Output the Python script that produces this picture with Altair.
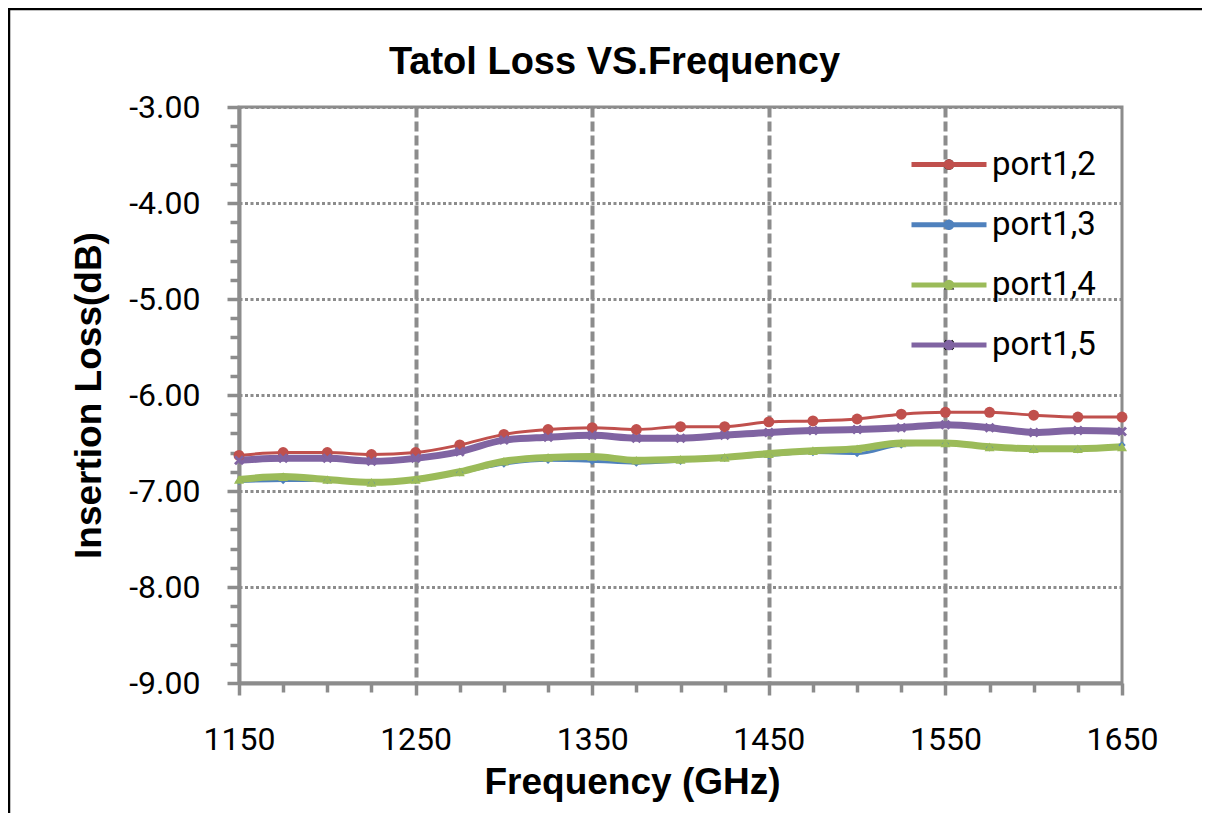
import altair as alt
import pandas as pd

# ---------------- data ----------------
freqs = [1150, 1175, 1200, 1225, 1250, 1275, 1300, 1325, 1350, 1375, 1400,
         1425, 1450, 1475, 1500, 1525, 1550, 1575, 1600, 1625, 1650]
series_names = ["port1,2", "port1,3", "port1,4", "port1,5"]
port12 = [-6.63, -6.60, -6.60, -6.62, -6.60, -6.52, -6.41, -6.36, -6.34, -6.36, -6.33,
          -6.33, -6.28, -6.27, -6.25, -6.20, -6.18, -6.18, -6.21, -6.23, -6.23]
port13 = [-6.90, -6.89, -6.89, -6.92, -6.89, -6.81, -6.72, -6.68, -6.69, -6.71, -6.69,
          -6.66, -6.63, -6.60, -6.61, -6.52, -6.51, -6.55, -6.57, -6.57, -6.52]
port14 = [-6.88, -6.85, -6.88, -6.91, -6.88, -6.80, -6.69, -6.65, -6.64, -6.68, -6.67,
          -6.65, -6.61, -6.58, -6.56, -6.50, -6.50, -6.54, -6.56, -6.56, -6.54]
port15 = [-6.68, -6.66, -6.66, -6.69, -6.66, -6.59, -6.47, -6.44, -6.42, -6.45, -6.45,
          -6.42, -6.39, -6.37, -6.36, -6.34, -6.31, -6.34, -6.39, -6.37, -6.38]

x_ticks = list(range(1150, 1651, 25))
y_ticks = [round(-9 + 0.2 * i, 1) for i in range(31)]

# ---------------- styling ----------------
colors = ["#C0504D", "#4F81BD", "#9BBB59", "#8064A2"]
line_widths = [3, 3, 7, 7]
x_path = "M-1,-0.6L-0.6,-1L0,-0.4L0.6,-1L1,-0.6L0.4,0L1,0.6L0.6,1L0,0.4L-0.6,1L-1,0.6L-0.4,0Z"
shapes = ["circle", "diamond", "triangle-up", x_path]
point_sizes = [120, 55, 100, 100]
legend_line_path = "M-3,0H3"

FONT_T = "Liberation Sans"
FONT_L = "Roboto"
GRAY = "#8c8c8c"

rows = []
for name, vals in zip(series_names, [port12, port13, port14, port15]):
    for f, v in zip(freqs, vals):
        rows.append({"freq": f, "loss": v, "series": name})
df = pd.DataFrame(rows)

names_js = "[" + ",".join(f"'{n}'" for n in series_names) + "]"
width_expr = "[" + ",".join(str(w) for w in line_widths) + f"][indexof({names_js}, datum.series)]"
size_expr = "[" + ",".join(str(s) for s in point_sizes) + f"][indexof({names_js}, datum.series)]"

major_x = "(datum.value - 1150) % 100 == 0"
major_y = "abs(datum.value - round(datum.value)) < 0.001"

x_enc = alt.X(
    "freq:Q",
    scale=alt.Scale(domain=[1150, 1650], nice=False, zero=False),
    axis=alt.Axis(
        values=x_ticks, tickCount=200,
        title="Frequency (GHz)",
        labelExpr=f"{major_x} ? format(datum.value, 'd') : ''",
        labelFont=FONT_L, labelFontSize=32, labelColor="black",
        labelPadding=29.5, labelOverlap=False, labelFlush=False,
        tickSize={"condition": {"test": major_x, "value": 12}, "value": 9},
        tickColor=GRAY, tickWidth=3.5,
        domainColor=GRAY, domainWidth=4,
        grid=True,
        gridOpacity={"condition": {"test": f"{major_x} && datum.value > 1150 && datum.value < 1650", "value": 1}, "value": 0},
        gridColor=GRAY, gridWidth=4, gridDash=[10, 4],
        titleFont=FONT_T, titleFontSize=37, titleFontWeight="bold", titleColor="black",
        titleX=393, titleY=110, titleBaseline="alphabetic", titleAlign="center",
    ),
)

y_enc = alt.Y(
    "loss:Q",
    scale=alt.Scale(domain=[-9, -3], nice=False, zero=False),
    axis=alt.Axis(
        values=y_ticks, tickCount=200,
        title="Insertion Loss(dB)",
        labelExpr=f"{major_y} ? ((datum.value < 0 ? '-' : '') + format(abs(datum.value), '.2f')) : ''",
        labelFont=FONT_L, labelFontSize=32, labelColor="black",
        labelPadding=27, labelOverlap=False, labelFlush=False,
        tickSize={"condition": {"test": major_y, "value": 12}, "value": 9},
        tickColor=GRAY, tickWidth=3.5,
        domainColor=GRAY, domainWidth=4,
        grid=True,
        gridOpacity={"condition": {"test": f"{major_y} && datum.value > -9", "value": 1}, "value": 0},
        gridColor=GRAY, gridWidth=3, gridDash=[3, 2.5],
        titleFont=FONT_T, titleFontSize=37, titleFontWeight="bold", titleColor="black",
        titleX=-139, titleY=288, titleBaseline="alphabetic", titleAlign="center", titleAngle=270,
    ),
)

color_scale = alt.Scale(domain=series_names, range=colors)

line_legend = alt.Legend(
    title=None, orient="none", legendX=693.5, legendY=41, padding=0,
    symbolType=legend_line_path, symbolSize=625, symbolStrokeWidth=5,
    labelFont=FONT_L, labelFontSize=33, labelColor="black", labelOffset=26.5,
    rowPadding=26.2,
)
point_legend = alt.Legend(
    title=None, orient="none", legendX=693.5, legendY=41, padding=0,
    symbolSize=110, symbolStrokeWidth=0,
    labelFont=FONT_L, labelFontSize=33, labelExpr="''",
    rowPadding=26.2,
)

base = alt.Chart(df)

lines = base.mark_line(interpolate="monotone", strokeWidth=alt.expr(width_expr)).encode(
    x=x_enc, y=y_enc,
    color=alt.Color("series:N", scale=color_scale, legend=line_legend),
)

points = base.transform_calculate(msize=size_expr).mark_point(filled=True, opacity=1).encode(
    x="freq:Q", y="loss:Q",
    color=alt.Color("series:N", scale=color_scale, legend=point_legend),
    shape=alt.Shape("series:N", scale=alt.Scale(domain=series_names, range=shapes), legend=point_legend),
    size=alt.Size("msize:Q", scale=None, legend=None),
)

frame = alt.Chart(alt.Data(values=[{"a": 1}])).mark_rect(
    fill="transparent", stroke="black", strokeWidth=2.5
).encode(
    x=alt.value(-230), x2=alt.value(1100), y=alt.value(-98), y2=alt.value(800)
)

chart = alt.layer(frame, lines, points).resolve_scale(
    color="independent"
).properties(
    width=883, height=576,
    title=alt.TitleParams(
        "Tatol Loss VS.Frequency", font=FONT_T, fontSize=38, fontWeight="bold",
        color="black", anchor="middle", frame="group", offset=0, dx=-66, dy=104,
        baseline="alphabetic",
    ),
    autosize=alt.AutoSizeParams(type="none"),
    padding={"left": 231, "top": 99, "right": 80, "bottom": 130},
    background="white",
).configure_view(
    stroke=GRAY, strokeWidth=3
)

chart.save("out.html", embed_options={"renderer": "svg", "actions": False})
